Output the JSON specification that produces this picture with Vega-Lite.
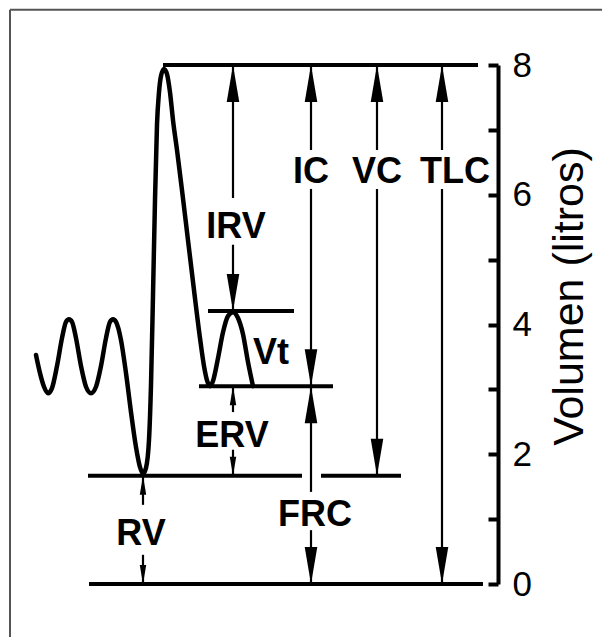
{
  "$schema": "https://vega.github.io/schema/vega-lite/v6.json",
  "width": 498,
  "height": 519,
  "autosize": {"type": "none"},
  "padding": {"left": 0, "top": 65, "right": 104, "bottom": 53},
  "background": "white",
  "config": {"view": {"stroke": null}},
  "datasets": {
    "curve": [
      {"x": 3.6, "y": 3.53}, {"x": 4.0, "y": 3.25}, {"x": 4.4, "y": 3.04}, {"x": 4.8, "y": 2.94},
      {"x": 5.2, "y": 3.02}, {"x": 5.7, "y": 3.36}, {"x": 6.2, "y": 3.79}, {"x": 6.6, "y": 4.04},
      {"x": 6.9, "y": 4.08}, {"x": 7.2, "y": 4.04}, {"x": 7.6, "y": 3.79}, {"x": 8.1, "y": 3.36},
      {"x": 8.6, "y": 3.04}, {"x": 9.1, "y": 2.94}, {"x": 9.6, "y": 3.04}, {"x": 10.1, "y": 3.36},
      {"x": 10.6, "y": 3.79}, {"x": 11.0, "y": 4.04}, {"x": 11.3, "y": 4.08}, {"x": 11.6, "y": 4.04},
      {"x": 12.1, "y": 3.76}, {"x": 12.6, "y": 3.25}, {"x": 13.1, "y": 2.65}, {"x": 13.6, "y": 2.11},
      {"x": 14.0, "y": 1.8}, {"x": 14.3, "y": 1.7}, {"x": 14.6, "y": 1.79}, {"x": 14.9, "y": 2.22},
      {"x": 15.1, "y": 3.07}, {"x": 15.3, "y": 4.45}, {"x": 15.5, "y": 5.92}, {"x": 15.7, "y": 7.08},
      {"x": 15.9, "y": 7.58}, {"x": 16.1, "y": 7.83}, {"x": 16.4, "y": 7.94}, {"x": 16.7, "y": 7.86},
      {"x": 17.0, "y": 7.58}, {"x": 17.3, "y": 7.15}, {"x": 17.7, "y": 6.69}, {"x": 18.2, "y": 6.07},
      {"x": 18.8, "y": 5.3}, {"x": 19.4, "y": 4.53}, {"x": 20.0, "y": 3.79}, {"x": 20.4, "y": 3.36},
      {"x": 20.7, "y": 3.14}, {"x": 21.0, "y": 3.05}, {"x": 21.3, "y": 3.13}, {"x": 21.8, "y": 3.48},
      {"x": 22.3, "y": 3.88}, {"x": 22.8, "y": 4.13}, {"x": 23.3, "y": 4.19}, {"x": 23.8, "y": 4.1},
      {"x": 24.3, "y": 3.85}, {"x": 24.8, "y": 3.42}, {"x": 25.3, "y": 3.05}
    ],
    "levels": [
      {"x": 16.3, "x2": 47.8, "y": 8},
      {"x": 20.8, "x2": 29.4, "y": 4.21},
      {"x": 19.9, "x2": 33.3, "y": 3.05},
      {"x": 8.8, "x2": 30.2, "y": 1.67},
      {"x": 32.1, "x2": 40.1, "y": 1.67},
      {"x": 8.9, "x2": 48.3, "y": 0}
    ],
    "shafts": [
      {"x": 23.3, "y": 8, "y2": 5.95}, {"x": 23.3, "y": 5.23, "y2": 4.21},
      {"x": 31.1, "y": 8, "y2": 6.69}, {"x": 31.1, "y": 6.09, "y2": 3.05},
      {"x": 37.7, "y": 8, "y2": 6.69}, {"x": 37.7, "y": 6.09, "y2": 1.67},
      {"x": 44.2, "y": 8, "y2": 6.69}, {"x": 44.2, "y": 6.09, "y2": 0},
      {"x": 23.3, "y": 3.05, "y2": 2.65}, {"x": 23.3, "y": 2.07, "y2": 1.67},
      {"x": 31.1, "y": 3.05, "y2": 1.42}, {"x": 31.1, "y": 0.83, "y2": 0},
      {"x": 14.3, "y": 1.67, "y2": 1.22}, {"x": 14.3, "y": 0.45, "y2": 0}
    ],
    "heads": [
      {"x": 23.3, "y": 8, "dir": "up"}, {"x": 23.3, "y": 4.21, "dir": "down"},
      {"x": 31.1, "y": 8, "dir": "up"}, {"x": 31.1, "y": 3.05, "dir": "down"},
      {"x": 37.7, "y": 8, "dir": "up"}, {"x": 37.7, "y": 1.67, "dir": "down"},
      {"x": 44.2, "y": 8, "dir": "up"}, {"x": 44.2, "y": 0, "dir": "down"},
      {"x": 31.1, "y": 3.05, "dir": "up"}, {"x": 31.1, "y": 0, "dir": "down"}
    ],
    "smallHeads": [
      {"x": 23.3, "y": 3.05, "dir": "up"}, {"x": 23.3, "y": 1.67, "dir": "down"},
      {"x": 14.3, "y": 1.67, "dir": "up"}, {"x": 14.3, "y": 0, "dir": "down"}
    ],
    "labels": [
      {"x": 31.1, "y": 6.18, "label": "IC"},
      {"x": 37.7, "y": 6.18, "label": "VC"},
      {"x": 45.5, "y": 6.18, "label": "TLC"},
      {"x": 23.6, "y": 5.33, "label": "IRV"},
      {"x": 27.1, "y": 3.39, "label": "Vt"},
      {"x": 23.2, "y": 2.11, "label": "ERV"},
      {"x": 14.1, "y": 0.6, "label": "RV"},
      {"x": 31.5, "y": 0.89, "label": "FRC"}
    ],
    "frame": [
      {"x": 1.0, "x2": 60.2, "y": 8.85, "y2": 8.85},
      {"x": 1.0, "x2": 1.0, "y": 8.85, "y2": -0.82}
    ]
  },
  "encoding": {
    "x": {"field": "x", "type": "quantitative", "scale": {"domain": [0, 49.8], "nice": false, "zero": false}, "axis": null},
    "y": {
      "field": "y", "type": "quantitative",
      "scale": {"domain": [0, 8], "nice": false, "zero": false},
      "axis": {
        "orient": "right",
        "values": [0, 1, 2, 3, 4, 5, 6, 7, 8],
        "labelExpr": "datum.value % 2 === 0 ? datum.label : ''",
        "grid": false,
        "domainWidth": 4, "domainColor": "black",
        "tickColor": "black", "tickWidth": 4, "tickSize": -10,
        "labelPadding": 24,
        "labelFont": "Liberation Sans", "labelFontSize": 35, "labelColor": "black",
        "title": "Volumen (litros)",
        "titleFont": "Liberation Sans", "titleFontSize": 43, "titleFontWeight": "normal", "titleColor": "black",
        "titleAngle": 270, "titleX": 84, "titleY": 231, "titleAlign": "center", "titleBaseline": "alphabetic"
      }
    }
  },
  "layer": [
    {
      "data": {"name": "frame"},
      "mark": {"type": "rule", "color": "#555555", "strokeWidth": 2},
      "encoding": {"x2": {"field": "x2"}, "y2": {"field": "y2"}}
    },
    {
      "data": {"name": "levels"},
      "mark": {"type": "rule", "color": "black", "strokeWidth": 4},
      "encoding": {"x2": {"field": "x2"}}
    },
    {
      "data": {"name": "shafts"},
      "mark": {"type": "rule", "color": "black", "strokeWidth": 2.2},
      "encoding": {"y2": {"field": "y2"}}
    },
    {
      "data": {"name": "curve"},
      "mark": {"type": "line", "color": "black", "strokeWidth": 4.5, "interpolate": "monotone", "strokeCap": "round"},
      "encoding": {}
    },
    {
      "data": {"name": "heads"},
      "mark": {"type": "point", "filled": true, "color": "black", "opacity": 1, "size": 5476, "strokeWidth": 0},
      "encoding": {
        "shape": {"field": "dir", "type": "nominal", "legend": null,
          "scale": {"domain": ["up", "down"], "range": ["M0,0L-0.17,1L0.17,1Z", "M0,0L-0.17,-1L0.17,-1Z"]}}
      }
    },
    {
      "data": {"name": "smallHeads"},
      "mark": {"type": "point", "filled": true, "color": "black", "opacity": 1, "size": 1444, "strokeWidth": 0},
      "encoding": {
        "shape": {"field": "dir", "type": "nominal", "legend": null,
          "scale": {"domain": ["up", "down"], "range": ["M0,0L-0.19,1L0.19,1Z", "M0,0L-0.19,-1L0.19,-1Z"]}}
      }
    },
    {
      "data": {"name": "labels"},
      "mark": {"type": "text", "align": "center", "baseline": "alphabetic", "font": "Liberation Sans", "fontWeight": "bold", "fontSize": 36, "color": "black"},
      "encoding": {"text": {"field": "label"}}
    }
  ]
}
